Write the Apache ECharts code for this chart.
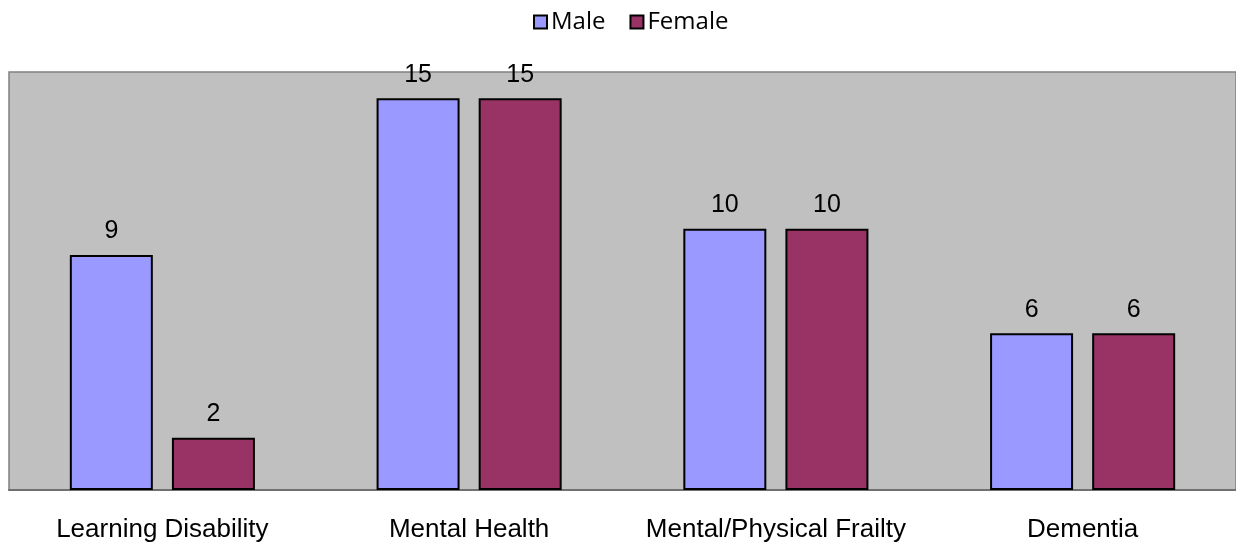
<!DOCTYPE html>
<html><head><meta charset="utf-8">
<script src="https://cdn.jsdelivr.net/npm/echarts@6/dist/echarts.min.js"></script>
<style>html,body{margin:0;padding:0;background:#fff}#c{width:1236px;height:549px}</style>
</head><body><div id="c"></div>
<script>
const categories = ['Learning Disability', 'Mental Health', 'Mental/Physical Frailty', 'Dementia'];
const maleValues = [9, 15, 10, 6];
const femaleValues = [2, 15, 10, 6];
const seriesNames = ['Male', 'Female'];

const chart = echarts.init(document.getElementById('c'));
const labelCfg = {show: true, position: 'top', distance: 11, color: '#000', fontFamily: 'Liberation Sans', fontSize: 25};
chart.setOption({
  animation: false,
  legend: {
    top: 5, left: 528, itemWidth: 13, itemHeight: 13, itemGap: 24,
    icon: 'rect',
    textStyle: {fontFamily: 'Open Sans', fontSize: 24, color: '#000', padding: [0, 0, 0, -1]},
    data: seriesNames.map(n => ({name: n, itemStyle: {borderColor: '#000', borderWidth: 2}}))
  },
  grid: {left: 9, top: 72, bottom: 59, width: 1229, show: true, backgroundColor: '#C0C0C0', borderColor: '#808080', borderWidth: 1.5, containLabel: false},
  xAxis: {
    type: 'category', data: categories,
    axisLine: {lineStyle: {color: '#707070', width: 2}},
    axisTick: {show: false},
    axisLabel: {color: '#000', fontFamily: 'Liberation Sans', fontSize: 26, margin: 27, interval: 0}
  },
  yAxis: {type: 'value', min: 0, max: 16, show: false, splitLine: {show: false}},
  series: [
    {name: seriesNames[0], type: 'bar', data: maleValues, barWidth: 83, barGap: '23%',
     itemStyle: {color: '#9999FF', borderColor: '#000', borderWidth: 2}, label: labelCfg},
    {name: seriesNames[1], type: 'bar', data: femaleValues, barWidth: 83,
     itemStyle: {color: '#993366', borderColor: '#000', borderWidth: 2}, label: labelCfg}
  ]
});
</script></body></html>
